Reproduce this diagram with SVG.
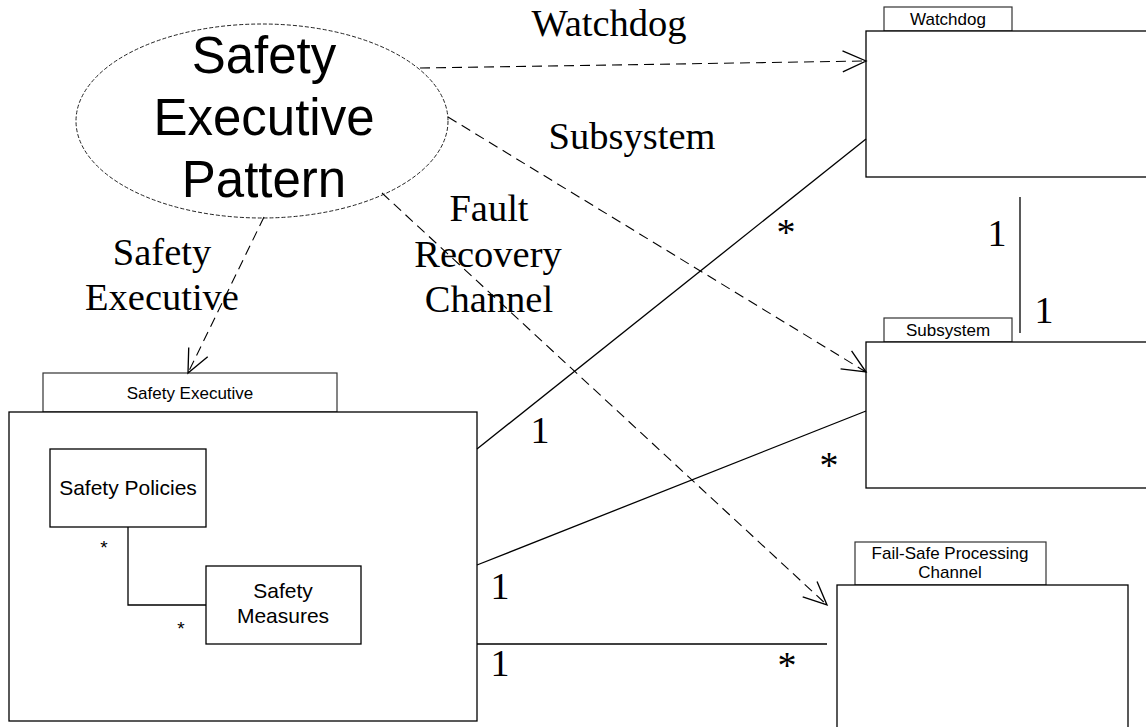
<svg xmlns="http://www.w3.org/2000/svg" width="1146" height="727" viewBox="0 0 1146 727">
  <style>
    .box { fill: #fff; stroke: #000; stroke-width: 1.3; }
    .tab { fill: #fff; stroke: #333; stroke-width: 1.2; }
    .tabtxt { font-family: "Liberation Sans", Arial, sans-serif; font-size: 17px; text-anchor: middle; fill: #000; }
    .inner { font-family: "Liberation Sans", Arial, sans-serif; font-size: 21px; text-anchor: middle; fill: #000; }
    .lbl { font-family: "Liberation Serif", "Times New Roman", serif; font-size: 38.5px; text-anchor: middle; fill: #000; }
    .mult { font-family: "Liberation Serif", "Times New Roman", serif; font-size: 38px; text-anchor: middle; fill: #000; }
    .dep { fill: none; stroke: #000; stroke-width: 1.1; stroke-dasharray: 10 6; }
    .assoc { fill: none; stroke: #000; stroke-width: 1.3; }
  </style>
  <defs>
    <marker id="open" markerUnits="userSpaceOnUse" markerWidth="30" markerHeight="30" viewBox="-25 -12 27 24" refX="0" refY="0" orient="auto">
      <path d="M -21 -9.5 L 0 0 L -21 9.5" fill="none" stroke="#000" stroke-width="1.2"/>
    </marker>
  </defs>

  <!-- collaboration ellipse -->
  <g id="pattern">
    <ellipse cx="262" cy="121" rx="186" ry="97" fill="none" stroke="#222" stroke-width="1" stroke-dasharray="4 2"/>
    <text font-family="Liberation Sans, Arial, sans-serif" font-size="51" text-anchor="middle" x="264" y="73">Safety</text>
    <text font-family="Liberation Sans, Arial, sans-serif" font-size="51" text-anchor="middle" x="264" y="135">Executive</text>
    <text font-family="Liberation Sans, Arial, sans-serif" font-size="51" text-anchor="middle" x="264" y="197">Pattern</text>
  </g>

  <!-- Watchdog package -->
  <g id="watchdog">
    <rect class="tab" x="884" y="7" width="128" height="24"/>
    <text class="tabtxt" x="948" y="25">Watchdog</text>
    <rect class="box" x="866" y="31" width="290" height="146"/>
  </g>

  <!-- Subsystem package -->
  <g id="subsystem">
    <rect class="tab" x="884" y="318" width="128" height="24"/>
    <text class="tabtxt" x="948" y="336">Subsystem</text>
    <rect class="box" x="866" y="342" width="290" height="146"/>
  </g>

  <!-- Fail-Safe Processing Channel package -->
  <g id="failsafe">
    <rect class="tab" x="855" y="542" width="191" height="43"/>
    <text class="tabtxt" x="950" y="559">Fail-Safe Processing</text>
    <text class="tabtxt" x="950" y="578">Channel</text>
    <rect class="box" x="837" y="585" width="291" height="160"/>
  </g>

  <!-- Safety Executive package -->
  <g id="safety-executive">
    <rect class="tab" x="43" y="373" width="294" height="39"/>
    <text class="tabtxt" x="190" y="399">Safety Executive</text>
    <rect class="box" x="9" y="412" width="468" height="309"/>
  </g>

  <g id="safety-policies">
    <rect class="box" x="50" y="449" width="156" height="78"/>
    <text class="inner" x="128" y="495">Safety Policies</text>
  </g>

  <g id="safety-measures">
    <rect class="box" x="206" y="566" width="155" height="78"/>
    <text class="inner" x="283" y="598">Safety</text>
    <text class="inner" x="283" y="623">Measures</text>
  </g>

  <!-- connectors -->
  <g id="connectors">
    <line class="dep" x1="420" y1="68" x2="866" y2="61" marker-end="url(#open)"/>
    <line class="dep" x1="448" y1="117" x2="866" y2="372" marker-end="url(#open)"/>
    <line class="dep" x1="382" y1="193" x2="827" y2="605" marker-end="url(#open)"/>
    <line class="dep" x1="264" y1="217" x2="188" y2="373" marker-end="url(#open)"/>

    <line class="assoc" x1="866" y1="139" x2="477" y2="449"/>
    <line class="assoc" x1="866" y1="411" x2="477" y2="565"/>
    <line class="assoc" x1="477" y1="644" x2="827" y2="644"/>
    <line class="assoc" x1="1020" y1="197" x2="1020" y2="333" stroke="#444"/>
    <polyline class="assoc" points="128,527 128,605 206,605"/>
  </g>

  <!-- role labels -->
  <g id="labels">
    <text class="lbl" x="609" y="36">Watchdog</text>
    <text class="lbl" x="632" y="149">Subsystem</text>
    <text class="lbl" x="489" y="221">Fault</text>
    <text class="lbl" x="488" y="267">Recovery</text>
    <text class="lbl" x="489" y="312">Channel</text>
    <text class="lbl" x="162" y="265">Safety</text>
    <text class="lbl" x="162" y="310">Executive</text>
  </g>

  <!-- multiplicities -->
  <g id="multiplicities">
    <text class="mult" x="786" y="245">*</text>
    <text class="mult" x="540" y="443">1</text>
    <text class="mult" x="997" y="246">1</text>
    <text class="mult" x="1044" y="323">1</text>
    <text class="mult" x="829" y="478">*</text>
    <text class="mult" x="500" y="599">1</text>
    <text class="mult" x="500" y="676">1</text>
    <text class="mult" x="787" y="678">*</text>
    <text font-family="Liberation Sans, Arial, sans-serif" font-size="19" text-anchor="middle" x="104" y="554">*</text>
    <text font-family="Liberation Sans, Arial, sans-serif" font-size="19" text-anchor="middle" x="181" y="635">*</text>
  </g>
</svg>
